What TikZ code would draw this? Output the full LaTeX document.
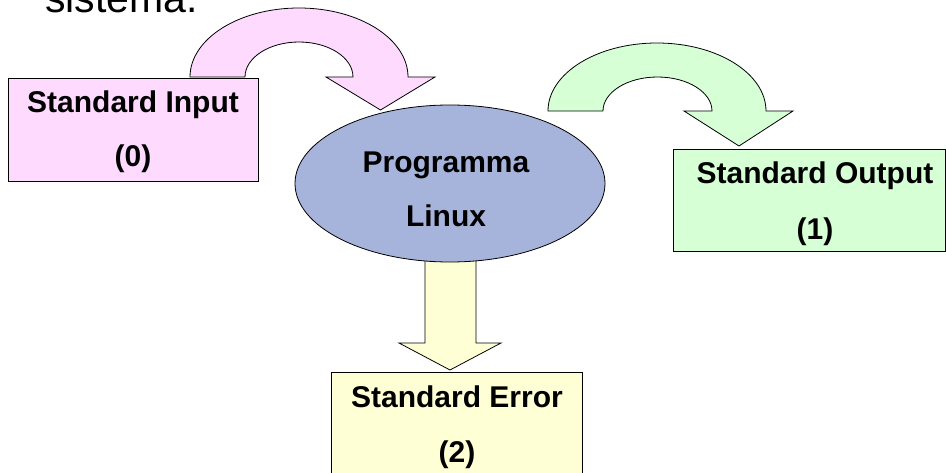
\documentclass[tikz,border=0pt]{standalone}
\usepackage{fontspec}
\setmainfont{Liberation Sans}
\definecolor{inpink}{HTML}{FFDAFF}
\definecolor{progblue}{HTML}{A6B3DB}
\definecolor{outgreen}{HTML}{D6FFD6}
\definecolor{erryellow}{HTML}{FFFFD6}
\tikzset{
  shape line/.style={draw=black, line width=0.8pt, line join=miter},
  label text/.style={inner sep=0pt, anchor=base, font=\fontsize{30}{36}\selectfont\bfseries},
  streambox/.style={shape line}
}
\begin{document}
\begin{tikzpicture}[x=1pt,y=1pt]
\useasboundingbox (0,0) rectangle (946,472);
\clip (0,0) rectangle (946,472);

% heading line, partly above the page
\node[inner sep=0pt, anchor=base west, font=\fontsize{41}{48}\selectfont] (head) at (45,459) {sistema.};

% curved arrow from standard input to the program
\filldraw[shape line, fill=inpink]
  (190,395) arc[start angle=180, end angle=0, x radius=109pt, y radius=69pt]
  -- (435,395) -- (380.5,362) -- (326,395) -- (353,395)
  arc[start angle=0, end angle=180, x radius=54pt, y radius=35pt]
  -- cycle;

% curved arrow from the program to standard output
\filldraw[shape line, fill=outgreen]
  (548,361) arc[start angle=180, end angle=0, x radius=109pt, y radius=68pt]
  -- (793,361) -- (739,326) -- (684,361) -- (712,361)
  arc[start angle=0, end angle=180, x radius=54.5pt, y radius=34pt]
  -- cycle;

% straight arrow down to standard error
\filldraw[shape line, fill=erryellow]
  (425,240) -- (476,240) -- (476,129) -- (501,129) -- (450,102)
  -- (399,129) -- (425,129) -- cycle;

% program
\filldraw[shape line, fill=progblue] (450,288.5) ellipse[x radius=155pt, y radius=78.5pt];
\coordinate (prog) at (450,288.5);
\node[label text] (progA) at (446,299) {Programma};
\node[label text] (progB) at (446,245) {Linux};

% standard input
\filldraw[streambox, fill=inpink] (8,291) rectangle (258,394);
\node[label text] (inA) at (133,359) {Standard Input};
\node[label text] (inB) at (133,305) {(0)};

% standard output
\filldraw[streambox, fill=outgreen] (673,221) rectangle (945,323);
\node[label text] (outA) at (815,288) {Standard Output};
\node[label text] (outB) at (815,232) {(1)};

% standard error
\filldraw[streambox, fill=erryellow] (331,-10) rectangle (582,100);
\node[label text] (errA) at (457,65) {Standard Error};
\node[label text] (errB) at (457,10) {(2)};
\end{tikzpicture}
\end{document}
